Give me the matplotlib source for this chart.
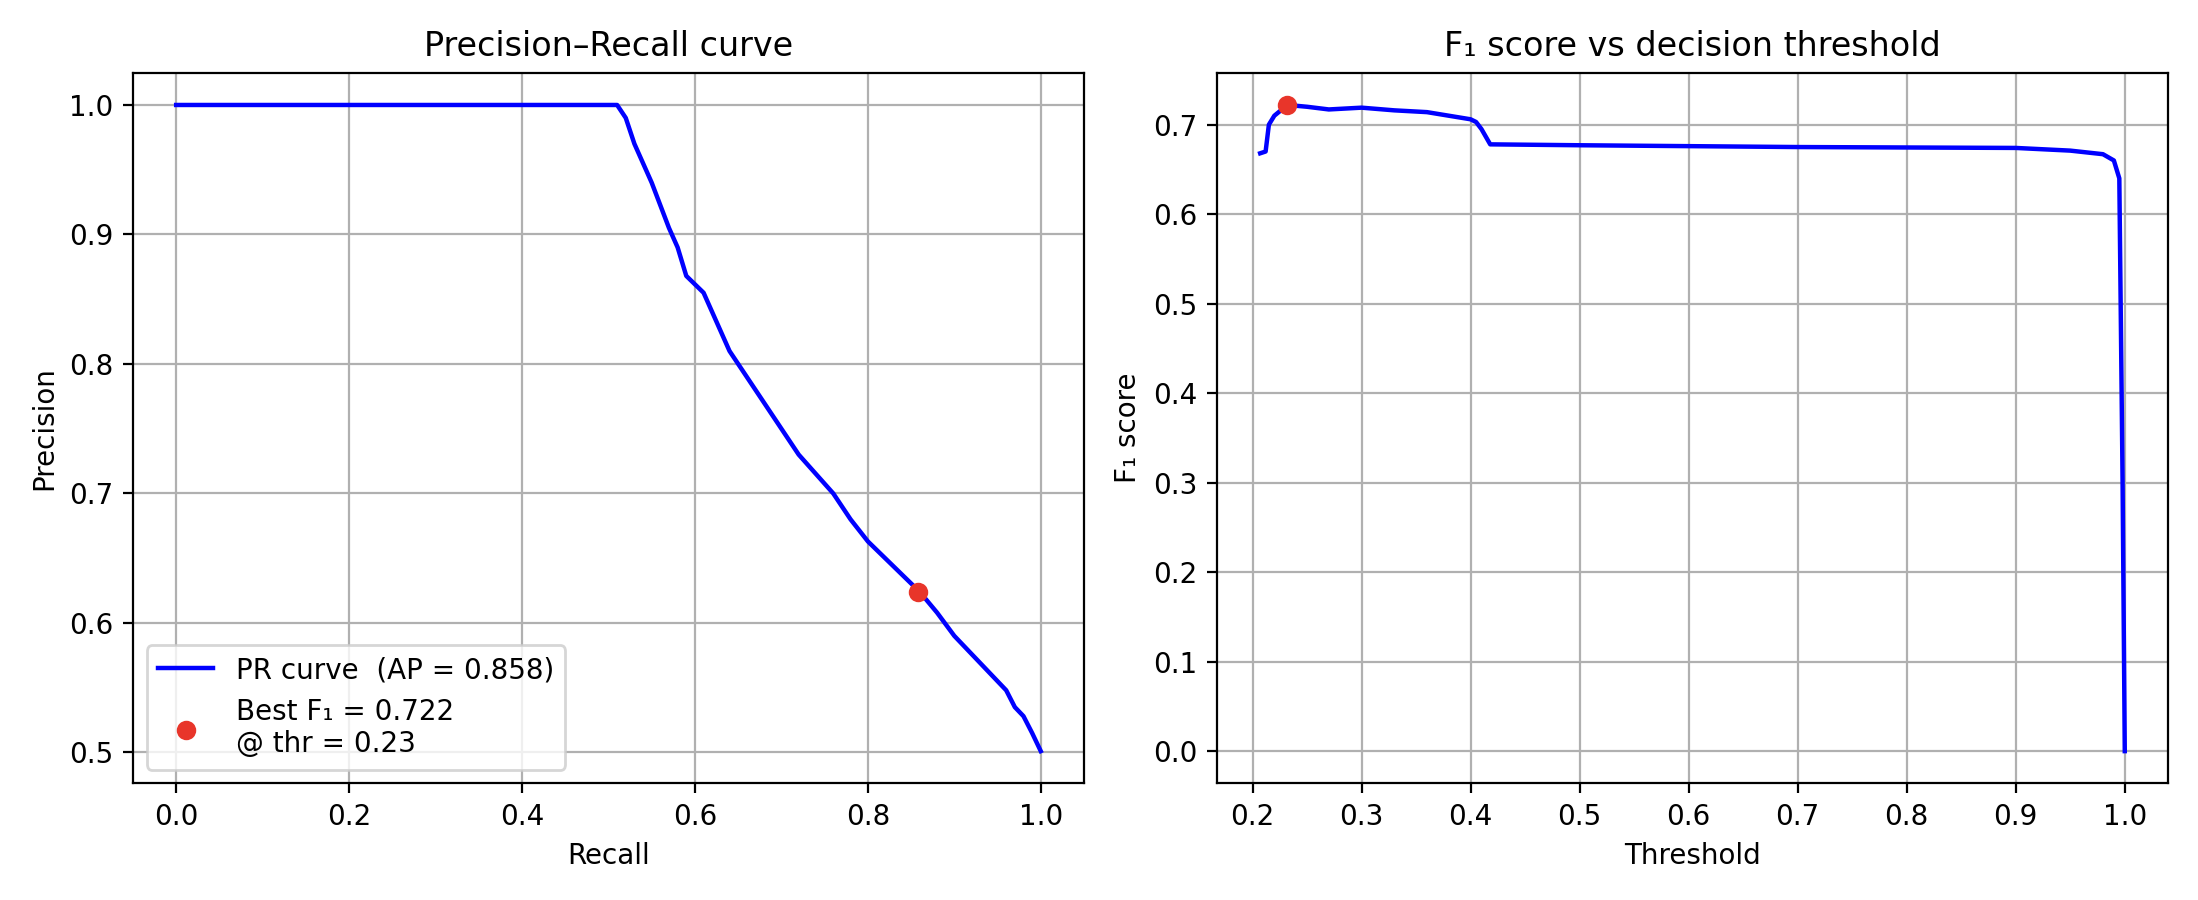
import matplotlib
matplotlib.use("Agg")
import matplotlib.pyplot as plt

# PR curve
recall = [0.0, 0.51, 0.52, 0.53, 0.55, 0.57, 0.58, 0.59, 0.61, 0.62, 0.64, 0.66, 0.68,
          0.70, 0.72, 0.74, 0.76, 0.78, 0.80, 0.82, 0.84, 0.86, 0.88, 0.90, 0.92,
          0.94, 0.96, 0.97, 0.98, 0.99, 1.0]
precision = [1.0, 1.0, 0.99, 0.97, 0.94, 0.905, 0.89, 0.868, 0.855, 0.84, 0.81, 0.79, 0.77,
             0.75, 0.73, 0.715, 0.70, 0.68, 0.663, 0.65, 0.637, 0.624, 0.608, 0.59, 0.576,
             0.562, 0.548, 0.535, 0.528, 0.515, 0.501]
ap = 0.858

# F1 vs threshold
thr = [0.207, 0.212, 0.215, 0.22, 0.232, 0.25, 0.27, 0.30, 0.33, 0.36, 0.38, 0.40, 0.405,
       0.41, 0.418, 0.5, 0.7, 0.9, 0.95, 0.98, 0.99, 0.995, 0.998, 1.0]
f1 = [0.668, 0.670, 0.700, 0.710, 0.722, 0.720, 0.717, 0.719, 0.716, 0.714, 0.710, 0.706, 0.703,
      0.695, 0.678, 0.677, 0.675, 0.674, 0.671, 0.667, 0.660, 0.640, 0.300, 0.0]

best_thr = 0.232
best_f1 = 0.722
best_recall = 0.858
best_prec = 0.624

fig, (ax1, ax2) = plt.subplots(1, 2, figsize=(10.99, 4.5), dpi=200)

ax1.plot(recall, precision, color='blue', lw=1.6, label='PR curve  (AP = %.3f)' % ap)
ax1.plot(best_recall, best_prec, 'o', color='#e8352a', markersize=6,
         label='Best F\u2081 = %.3f\n@ thr = %.2f' % (best_f1, best_thr))
ax1.set_xlabel('Recall')
ax1.set_ylabel('Precision')
ax1.set_title('Precision\u2013Recall curve')
ax1.grid(True)
ax1.legend(loc='lower left')

ax2.plot(thr, f1, color='blue', lw=1.6)
ax2.plot(best_thr, best_f1, 'o', color='#e8352a', markersize=6)
ax2.set_xlabel('Threshold')
ax2.set_ylabel('F\u2081 score')
ax2.set_title('F\u2081 score vs decision threshold')
ax2.set_xticks([0.2, 0.3, 0.4, 0.5, 0.6, 0.7, 0.8, 0.9, 1.0])
ax2.grid(True)

plt.tight_layout()
plt.savefig('out.png')
